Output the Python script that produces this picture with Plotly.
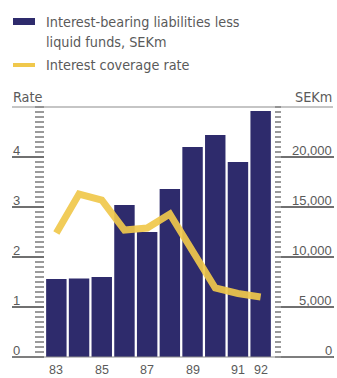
import plotly.graph_objects as go

years = ["83", "84", "85", "86", "87", "88", "89", "90", "91", "92"]
liabilities_sekm = [7800, 7850, 8000, 15200, 12500, 16800, 21000, 22200, 19500, 24600]
coverage_rate = [2.48, 3.26, 3.14, 2.54, 2.58, 2.86, 2.12, 1.38, 1.27, 1.2]
x_tick_vals = ["83", "85", "87", "89", "91", "92"]
rate_ticks = [0, 1, 2, 3, 4]
rate_tick_text = ["0", "1", "2", "3", "4"]
sek_ticks = [0, 5000, 10000, 15000, 20000]
sek_tick_text = ["0", "5,000", "10,000", "15,000", "20,000"]

W, H = 337, 378
BAR = "#2e2b6c"
GOLD = "#f0c84c"
TXT = "#5a5a5a"
GRID = "#707070"
RULE = "#8c8c8c"
MINOR = "#9a9a9a"
NARROW = "DejaVu Sans Condensed, Liberation Sans Narrow, sans-serif"
REG = "Liberation Sans, Arial, sans-serif"

def px(x):
    return x / W

def py(y):
    return 1 - y / H

fig = go.Figure()
fig.add_trace(go.Bar(x=years, y=liabilities_sekm, xaxis="x", yaxis="y",
                     marker=dict(color=BAR, line=dict(width=0)), showlegend=False, hoverinfo="skip"))
fig.add_trace(go.Scatter(x=years, y=liabilities_sekm, yaxis="y2", mode="lines",
                         line=dict(width=0), opacity=0, showlegend=False, hoverinfo="skip"))
fig.add_trace(go.Scatter(x=years, y=coverage_rate, yaxis="y4", mode="lines",
                         line=dict(width=0), opacity=0, showlegend=False, hoverinfo="skip"))
fig.add_trace(go.Scatter(x=years, y=coverage_rate, yaxis="y3", mode="lines",
                         line=dict(color=GOLD, width=7, shape="linear"), opacity=0.92,
                         showlegend=False, hoverinfo="skip"))

ydom = [py(357), py(107)]
fig.update_layout(
    width=W, height=H, margin=dict(l=0, r=0, t=0, b=0),
    paper_bgcolor="white", plot_bgcolor="white",
    barmode="overlay", bargap=0.1,
    xaxis=dict(domain=[px(45), px(272)], type="category", range=[-0.5, 9.5],
               showgrid=False, zeroline=False, showline=False, showticklabels=False, ticks=""),
    yaxis=dict(domain=ydom, range=[0, 25000], anchor="free", position=px(274), side="right",
               showgrid=False, zeroline=False, showline=False, showticklabels=False,
               ticks="outside", tickmode="array", tickvals=sek_ticks, ticklen=59,
               tickcolor=GRID, tickwidth=2),
    yaxis2=dict(domain=ydom, range=[0, 25000], anchor="free", overlaying="y", side="right",
                position=px(274), showgrid=False, zeroline=False, showline=False,
                showticklabels=False, ticks="outside", dtick=500, ticklen=6,
                tickcolor=MINOR, tickwidth=1.5),
    yaxis3=dict(domain=ydom, range=[0, 5], anchor="free", overlaying="y", position=px(44), side="left",
                showgrid=False, zeroline=False, showline=False, showticklabels=False,
                ticks="outside", dtick=0.1, ticklen=9, tickcolor=MINOR, tickwidth=1.5),
    yaxis4=dict(domain=ydom, range=[0, 5], anchor="free", overlaying="y", position=px(44), side="left",
                showgrid=False, zeroline=False, showline=False, showticklabels=False,
                ticks="outside", tickmode="array", tickvals=rate_ticks, ticklen=32,
                tickcolor=GRID, tickwidth=2),
)

shapes = [
    dict(type="line", xref="paper", yref="paper", x0=px(12), x1=px(333), y0=py(107), y1=py(107),
         line=dict(color=RULE, width=1.2)),
    dict(type="line", xref="paper", yref="paper", x0=px(12), x1=px(333), y0=py(357), y1=py(357),
         line=dict(color=RULE, width=1.2)),
    dict(type="rect", xref="paper", yref="paper", x0=px(13), x1=px(35), y0=py(25), y1=py(18),
         fillcolor=BAR, line=dict(width=0)),
    dict(type="line", xref="paper", yref="paper", x0=px(13), x1=px(35), y0=py(65), y1=py(65),
         line=dict(color=GOLD, width=4)),
]
fig.update_layout(shapes=shapes)

def ann(text, x, y, xanchor="left", size=14.3, family=NARROW, xref="paper", yref="paper", yshift=0):
    fig.add_annotation(text=text, x=x, y=y, xref=xref, yref=yref, yshift=yshift,
                       xanchor=xanchor, yanchor="middle", showarrow=False,
                       font=dict(family=family, size=size, color=TXT))

ann("Interest-bearing liabilities less", px(44), py(22))
ann("liquid funds, SEKm", px(44), py(42))
ann("Interest coverage rate", px(44), py(65))
ann("Rate", px(11), py(97))
ann("SEKm", px(334), py(97), xanchor="right")

for v, t in zip(rate_ticks, rate_tick_text):
    ann(t, px(11), v, yref="y3", yshift=7, family=REG, size=13)
for v, t in zip(sek_ticks, sek_tick_text):
    ann(t, px(334), v, xanchor="right", yref="y", yshift=7, family=REG, size=13)
for t in x_tick_vals:
    ann(t, years.index(t), py(370), xanchor="center", xref="x", family=REG, size=12.5)

fig.write_html("out.html")
